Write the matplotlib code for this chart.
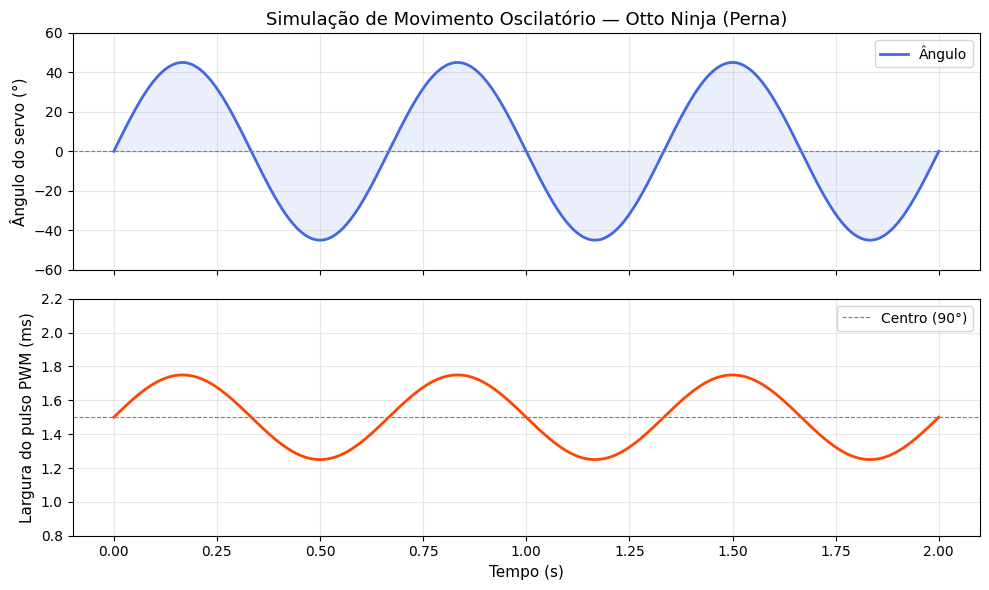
import numpy as np
import matplotlib
matplotlib.use("Agg")
from matplotlib import pyplot as plt

# values
duration = 2.0          # s
amplitude = 45.0        # degrees
frequency = 1.5         # Hz (3 cycles in 2 s)
pwm_center = 1.5        # ms at 90 degrees
pwm_per_degree = 0.25 / 45.0   # 45 deg -> 0.25 ms

t = np.linspace(0.0, duration, 500)
angle = amplitude * np.sin(2 * np.pi * frequency * t)
pwm = pwm_center + angle * pwm_per_degree

fig, (ax1, ax2) = plt.subplots(2, 1, figsize=(10, 6), dpi=100, sharex=True)

ax1.plot(t, angle, color="royalblue", linewidth=2, label="Ângulo")
ax1.fill_between(t, angle, 0, color="royalblue", alpha=0.1)
ax1.axhline(0, color="gray", linestyle="--", linewidth=0.8)
ax1.set_ylim(-60, 60)
ax1.set_ylabel("Ângulo do servo (°)", fontsize=11)
ax1.set_title("Simulação de Movimento Oscilatório — Otto Ninja (Perna)", fontsize=13)
ax1.grid(True, alpha=0.3)
ax1.legend(loc="upper right")

ax2.plot(t, pwm, color="orangered", linewidth=2)
ax2.axhline(pwm_center, color="gray", linestyle="--", linewidth=0.8, label="Centro (90°)")
ax2.set_ylim(0.8, 2.2)
ax2.set_xlabel("Tempo (s)", fontsize=11)
ax2.set_ylabel("Largura do pulso PWM (ms)", fontsize=11)
ax2.grid(True, alpha=0.3)
ax2.legend(loc="upper right")

plt.tight_layout()
plt.savefig("out.png", bbox_inches="tight")
